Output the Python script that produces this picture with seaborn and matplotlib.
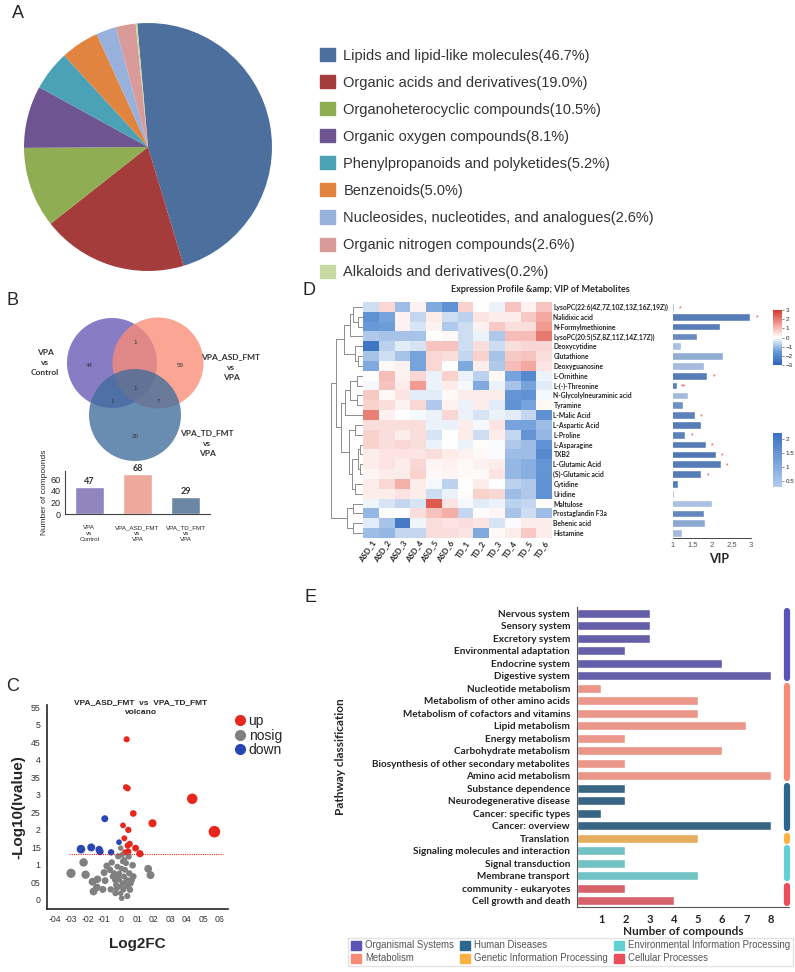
import numpy as np
import pandas as pd
import matplotlib
matplotlib.use('Agg')
import matplotlib.pyplot as plt
from matplotlib.colors import LinearSegmentedColormap, Normalize
from matplotlib.patches import Circle, Patch
from matplotlib.lines import Line2D
import seaborn as sns

W, H = 795, 972

# ─── A: pie ──────────────────────────────────────────────────────────────────
class_names = ['Lipids and lipid-like molecules', 'Organic acids and derivatives',
               'Organoheterocyclic compounds', 'Organic oxygen compounds',
               'Phenylpropanoids and polyketides', 'Benzenoids',
               'Nucleosides, nucleotides, and analogues', 'Organic nitrogen compounds',
               'Alkaloids and derivatives']
class_pct = [46.7, 19.0, 10.5, 8.1, 5.2, 5.0, 2.6, 2.6, 0.2]
class_colors = ['#4d6f9e', '#a53c3c', '#8fad52', '#6f5492', '#4ba1b5', '#e0843f',
                '#98b1dc', '#d99a9a', '#c6d9a0']

# ─── B: venn + bars ──────────────────────────────────────────────────────────
venn_sets = ['VPA\nvs\nControl', 'VPA_ASD_FMT\nvs\nVPA', 'VPA_TD_FMT\nvs\nVPA']
venn_regions = {'ctrl': 44, 'asd': 59, 'ctrl_asd': 1, 'all': 1, 'ctrl_td': 1, 'asd_td': 7, 'td': 20}
comp_labels = ['VPA\nvs\nControl', 'VPA_ASD_FMT\nvs\nVPA', 'VPA_TD_FMT\nvs\nVPA']
comp_counts = [47, 68, 29]
comp_colors = ['#8a7cc6', '#f9a08f', '#6287ad']

# ─── C: volcano ──────────────────────────────────────────────────────────────
up_x = [0.036, 0.032, 0.042, 0.076, 0.014, 0.046, 0.022, 0.054, 0.042, 0.09, 0.026,
        0.046, 0.116, 0.192, 0.432, 0.566]
up_y = [4.59, 3.22, 3.19, 2.47, 2.13, 2.0, 1.76, 1.6, 1.55, 1.48, 1.36, 1.38, 1.32,
        2.19, 2.89, 1.95]
down_x = [-0.096, -0.24, -0.178, -0.13, -0.125, -0.058, -0.01]
down_y = [2.32, 1.45, 1.50, 1.44, 1.38, 1.36, 1.65]
nosig_x = [-0.30, -0.224, -0.212, -0.17, -0.14, -0.164, -0.144, -0.108, -0.094, -0.10,
           -0.084, -0.064, -0.054, -0.048, -0.06, -0.034, -0.028, -0.02, -0.014, -0.008,
           0.0, 0.0, 0.006, 0.012, 0.02, 0.026, 0.032, 0.036, 0.046, 0.052, 0.056, 0.066,
           0.072, 0.076, 0.04, 0.02, 0.008, -0.016, 0.166, 0.18, 0.016, -0.008, 0.004,
           -0.032, 0.06, 0.048, -0.04, 0.012, -0.024, 0.028, -0.004, -0.014]
nosig_y = [0.76, 1.07, 0.72, 0.52, 0.59, 0.24, 0.36, 0.30, 0.55, 0.78,
           0.97, 0.86, 1.07, 0.67, 0.30, 0.57, 0.43, 0.95, 1.24, 0.76,
           1.48, 0.19, 0.05, 0.48, 0.67, 0.86, 1.05, 0.57, 0.38, 0.76, 0.29, 0.57,
           0.99, 0.67, 0.11, 1.14, 1.29, 1.25, 0.89, 0.71, 0.29, 0.57, 0.90,
           0.19, 0.48, 1.24, 0.76, 1.10, 0.33, 0.43, 0.38, 0.67]
vol_xticks = [-0.4, -0.3, -0.2, -0.1, 0.0, 0.1, 0.2, 0.3, 0.4, 0.5, 0.6]
vol_xticklabels = ['-04', '-03', '-02', '-01', '0', '01', '02', '03', '04', '05', '06']
vol_yticks = [0, 0.5, 1, 1.5, 2, 2.5, 3, 3.5, 4, 4.5, 5, 5.5]
vol_yticklabels = ['0', '05', '1', '15', '2', '25', '3', '35', '4', '45', '5', '55']

# ─── D: heatmap + VIP ────────────────────────────────────────────────────────
metabolites = ['LysoPC(22:6(4Z,7Z,10Z,13Z,16Z,19Z))', 'Nalidixic acid', 'N-Formylmethionine',
               'LysoPC(20:5(5Z,8Z,11Z,14Z,17Z))', 'Deoxycytidine', 'Glutathione',
               'Deoxyguanosine', 'L-Ornithine', 'L-(-)-Threonine', 'N-Glycolylneuraminic acid',
               'Tyramine', 'L-Malic Acid', 'L-Aspartic Acid', 'L-Proline', 'L-Asparagine',
               'TXB2', 'L-Glutamic Acid', '(S)-Glutamic acid', 'Cytidine', 'Uridine',
               'Maltulose', 'Prostaglandin F3a', 'Behenic acid', 'Histamine']
samples = ['ASD_1', 'ASD_2', 'ASD_3', 'ASD_4', 'ASD_5', 'ASD_6',
           'TD_1', 'TD_2', 'TD_3', 'TD_4', 'TD_5', 'TD_6']
expr = [
    [-0.5, 0.6, -1.0, 0.2, -1.3, -1.8, 0.7, 0.0, -0.2, 0.9, 0.2, 0.9],
    [-1.8, -1.4, 0.2, -0.6, 0.3, -0.5, -0.7, 0.4, 0.3, 0.3, 0.8, 1.3],
    [-1.6, -1.5, 0.2, -0.4, 0.2, -0.8, -0.5, 0.2, 0.8, 0.5, 0.5, 1.5],
    [-0.8, -0.9, -0.9, -0.9, 0.0, 0.1, -0.5, -0.2, -0.8, 1.0, 1.0, 2.0],
    [-2.5, -0.7, -0.3, -0.4, 0.9, 0.9, -0.5, 0.5, -0.5, 0.5, 0.6, 0.6],
    [-0.9, -0.5, -0.9, -1.4, 0.6, 0.5, -0.6, 0.7, -0.9, 0.8, 0.9, 0.5],
    [-1.3, 0.1, 0.2, -1.4, 0.6, 0.0, -1.3, 0.3, -0.8, 1.0, 1.3, 0.4],
    [0.0, 1.0, 0.2, 0.6, -0.2, 0.7, -0.2, -0.7, 0.1, -1.4, -2.0, -0.2],
    [-0.1, 0.9, 0.3, 1.5, -0.2, 0.3, -0.1, -1.3, -0.2, -0.9, -1.4, -0.3],
    [0.8, 0.1, 0.4, -0.3, -0.3, 0.1, 0.3, 0.3, 0.3, -1.7, -1.8, -0.1],
    [0.7, 0.5, 0.2, 0.6, -0.8, 0.2, -0.2, 0.3, -0.3, -1.8, -1.4, 0.1],
    [1.9, 0.2, 0.0, -0.1, -0.2, 0.6, -0.2, -0.4, -0.2, -0.3, -0.6, -1.8],
    [0.5, 0.5, 0.5, 0.5, -0.2, -0.2, 0.3, -0.1, 0.4, -1.4, -1.4, -1.0],
    [0.7, 0.5, 0.3, 0.5, -0.4, 0.0, 0.3, -0.5, 0.3, -0.6, -1.7, -1.1],
    [0.7, 0.5, 0.6, 0.5, -0.2, 0.0, -0.2, 0.05, -0.05, -0.8, -1.0, -1.8],
    [0.3, 0.4, 0.4, 0.4, 0.5, 0.3, 0.2, 0.1, -0.05, -1.0, -1.0, -2.0],
    [0.3, 0.4, 0.3, 0.6, 0.15, 0.2, 0.1, 0.2, 0.3, -1.1, -1.2, -1.7],
    [0.15, 0.3, 0.3, 0.7, 0.1, 0.15, 0.1, 0.1, 0.4, -1.1, -1.2, -1.7],
    [0.3, 0.6, 1.2, 0.3, -0.1, -0.7, 0.0, 0.3, 0.0, -0.7, -0.8, -1.8],
    [0.3, 0.3, 0.4, 0.3, -0.5, -0.2, 0.05, 0.7, 0.6, -1.0, -0.8, -1.8],
    [-0.15, -0.4, -0.6, -0.4, 2.5, 0.4, -0.1, -0.3, -0.2, -0.7, -0.6, 0.05],
    [-1.1, 0.05, 0.0, 0.5, 0.9, 1.2, -0.6, 0.05, 0.15, -0.9, -0.5, -1.0],
    [-0.3, -0.9, -2.4, -0.15, 0.5, 0.4, 0.5, 0.4, -0.4, -0.05, 0.3, 0.3],
    [-1.0, -1.1, -0.6, -0.6, 0.5, 0.5, 0.4, -1.3, 0.1, 0.3, 0.8, 0.3],
]
vip = [1.02, 2.98, 2.21, 1.61, 1.2, 2.28, 1.79, 1.88, 1.1, 1.38, 1.26, 1.56, 1.73,
       1.32, 1.84, 2.10, 2.22, 1.73, 1.14, 1.03, 2.0, 1.79, 1.81, 1.23]
vip_shade = [0.9, 2.0, 2.0, 1.7, 0.6, 1.0, 0.7, 2.0, 2.0, 0.7, 1.6, 1.9, 2.0, 1.9,
             2.0, 2.1, 2.0, 2.0, 2.0, 0.6, 0.6, 1.8, 1.1, 0.7]
vip_stars = ['*', '*', '', '', '', '', '', '*', '**', '', '', '*', '', '*', '*', '*',
             '*', '*', '', '', '', '', '', '']
# cluster merges: (left, right, height); leaves 0..23, new nodes from 24
row_merges = [(1, 2, 1.5), (0, 24, 3), (25, 3, 4), (5, 6, 1.5), (4, 27, 2.5), (26, 28, 6),
              (7, 8, 2), (9, 10, 2), (30, 31, 4), (32, 11, 5.5), (12, 13, 2.5), (14, 15, 1),
              (16, 17, 0.8), (35, 36, 1.5), (18, 19, 2.5), (37, 38, 3.5), (34, 39, 4.5),
              (33, 40, 7), (29, 41, 8.5), (20, 21, 3), (22, 23, 3), (43, 44, 5), (42, 45, 10)]

# ─── E: pathway bars ─────────────────────────────────────────────────────────
path_names = ['Nervous system', 'Sensory system', 'Excretory system', 'Environmental adaptation',
              'Endocrine system', 'Digestive system', 'Nucleotide metabolism',
              'Metabolism of other amino acids', 'Metabolism of cofactors and vitamins',
              'Lipid metabolism', 'Energy metabolism', 'Carbohydrate metabolism',
              'Biosynthesis of other secondary metabolites', 'Amino acid metabolism',
              'Substance dependence', 'Neurodegenerative disease', 'Cancer: specific types',
              'Cancer: overview', 'Translation', 'Signaling molecules and interaction',
              'Signal transduction', 'Membrane transport', 'community - eukaryotes',
              'Cell growth and death']
path_counts = [3, 3, 3, 2, 6, 8, 1, 5, 5, 7, 2, 6, 2, 8, 2, 2, 1, 8, 5, 2, 2, 5, 2, 4]
path_groups = (['Organismal Systems'] * 6 + ['Metabolism'] * 8 + ['Human Diseases'] * 4
               + ['Genetic Information Processing'] + ['Environmental Information Processing'] * 3
               + ['Cellular Processes'] * 2)
group_colors = {'Organismal Systems': '#5b53b6', 'Metabolism': '#fa8a78',
                'Human Diseases': '#2c6790', 'Genetic Information Processing': '#fbb245',
                'Environmental Information Processing': '#62d0d2', 'Cellular Processes': '#ea4f5a'}


def box(x0, y0, x1, y1):
    return [x0 / W, 1 - y1 / H, (x1 - x0) / W, (y1 - y0) / H]


sns.set_style('white')
plt.rcParams['font.family'] = ['Liberation Sans', 'DejaVu Sans']
LB = 'Lato'

fig = plt.figure(figsize=(W / 100, H / 100), dpi=100)
ov = fig.add_axes([0, 0, 1, 1])
ov.set_xlim(0, W)
ov.set_ylim(H, 0)
ov.axis('off')

for lab, (px, py) in zip('ABCDE', [(12, 14), (6, 300), (6, 686), (302, 290), (304, 597)]):
    ov.text(px, py, lab, fontsize=13, va='center', ha='left')

# ---- A
axA = fig.add_axes(box(24, 22, 272, 272))
axA.pie(class_pct, colors=class_colors, startangle=95, counterclock=False,
        wedgeprops=dict(linewidth=0))
axA.set_xlim(-1, 1)
axA.set_ylim(-1, 1)
axA.set_aspect('equal')
handles = [Patch(color=c) for c in class_colors]
labels = [f'{n}({p:.1f}%)' for n, p in zip(class_names, class_pct)]
fig.legend(handles, labels, loc='upper left', bbox_to_anchor=(307 / W, 1 - 35 / H),
           frameon=False, fontsize=10.5, handlelength=1.0, handleheight=1.0,
           labelspacing=0.86, handletextpad=0.6, labelcolor='#333333')

# ---- B venn
venn_geo = [((112, 363), 45, '#6e5fb8', 0.82), ((158, 363), 45.5, '#fa8c76', 0.78),
            ((135, 415), 46, '#3f6d9b', 0.78)]
for (c, r, col, a) in venn_geo:
    ov.add_patch(Circle(c, r, facecolor=col, edgecolor='none', alpha=a))
region_pos = {'ctrl': (89, 365), 'asd': (180, 365), 'ctrl_asd': (135, 342), 'all': (135, 388),
              'ctrl_td': (112, 401), 'asd_td': (158, 401), 'td': (135, 436)}
for k, v in venn_regions.items():
    ov.text(*region_pos[k], str(v), fontsize=4.5, ha='center', va='center', color='#333333')
for name, pos in zip(venn_sets, [(45, 362), (231, 367), (207, 443)]):
    ov.text(*pos, name, fontsize=6, ha='center', va='center', family=LB,
            fontweight='bold', color='#333333', linespacing=1.5)

axB = fig.add_axes(box(65, 471, 210, 514))
sns.barplot(x=comp_labels, y=comp_counts, hue=comp_labels, palette=comp_colors,
            legend=False, width=0.6, ax=axB)
axB.set_ylim(0, 74)
axB.set_yticks([0, 20, 40, 60])
axB.tick_params(axis='y', labelsize=6.5, length=2, pad=1)
axB.tick_params(axis='x', labelsize=4.5, length=0, pad=8)
for i, v in enumerate(comp_counts):
    axB.text(i, v + 2, str(v), ha='center', va='bottom', fontsize=6.5, family=LB,
             fontweight='bold', color='#333333')
axB.set_ylabel('Number of compounds', fontsize=6, labelpad=2)
sns.despine(ax=axB)
for s in ['left', 'bottom']:
    axB.spines[s].set_linewidth(0.8)
    axB.spines[s].set_color('#444444')

# ---- C volcano
axC = fig.add_axes(box(47, 705, 228, 909))
vol = pd.DataFrame({
    'x': up_x + nosig_x + down_x,
    'y': up_y + nosig_y + down_y,
    'status': ['up'] * len(up_x) + ['nosig'] * len(nosig_x) + ['down'] * len(down_x),
})
vol['mag'] = vol['x'].abs()
vol_pal = {'up': '#e8261e', 'nosig': '#808080', 'down': '#2a46b2'}
sns.scatterplot(data=vol, x='x', y='y', hue='status', palette=vol_pal, size='mag',
                sizes=(16, 70), size_norm=(0, 0.57), linewidth=0, legend=False, ax=axC)
axC.hlines(1.3, -0.31, 0.62, colors='#e8261e', linestyles=(0, (1, 1)), linewidth=0.8)
axC.set_xlim(-0.445, 0.648)
axC.set_ylim(-0.26, 5.57)
axC.set_xticks(vol_xticks)
axC.set_xticklabels(vol_xticklabels)
axC.set_yticks(vol_yticks)
axC.set_yticklabels(vol_yticklabels)
axC.tick_params(labelsize=6.3, length=2.5, width=0.8, colors='#333333', pad=2)
axC.set_xlabel('Log2FC', fontsize=11, fontweight='bold', labelpad=9)
axC.set_ylabel('-Log10(Ivalue)', fontsize=11, fontweight='bold', labelpad=4)
sns.despine(ax=axC)
for s in ['left', 'bottom']:
    axC.spines[s].set_linewidth(1.2)
fig.text(141 / W, 1 - 703 / H, 'VPA_ASD_FMT  vs  VPA_TD_FMT', fontsize=6, fontweight='bold',
         ha='center', va='center')
fig.text(141 / W, 1 - 713 / H, 'volcano', fontsize=6, fontweight='bold', ha='center', va='center')
vh = [Line2D([], [], marker='o', ls='', color=vol_pal[k], markersize=7) for k in ['up', 'nosig', 'down']]
fig.legend(vh, ['up', 'nosig', 'down'], loc='upper left', bbox_to_anchor=(225 / W, 1 - 707 / H),
           frameon=False, fontsize=10, handletextpad=0.0, labelspacing=0.05,
           borderpad=0, handlelength=1.2)

# ---- D heatmap
hm_cmap = LinearSegmentedColormap.from_list(
    'hm', [(0, '#2a63b8'), (0.25, '#6d9cd9'), (0.5, '#ffffff'), (0.75, '#f19c94'), (1, '#d5382b')])
axD = fig.add_axes(box(363, 302, 552, 538))
expr_df = pd.DataFrame(expr, index=metabolites, columns=samples)
sns.heatmap(expr_df, cmap=hm_cmap, vmin=-3, vmax=3, cbar=False, ax=axD)
axD.yaxis.tick_right()
axD.set_yticks(np.arange(len(metabolites)) + 0.5)
axD.set_yticklabels(metabolites, rotation=0, fontsize=4.9, family=LB, fontweight='bold')
axD.set_xticklabels(samples, rotation=55, ha='right', rotation_mode='anchor',
                    fontsize=5.8, family=LB, fontweight='bold')
axD.tick_params(length=0, pad=1)
ov.text(540, 289, 'Expression Profile &amp; VIP of Metabolites', fontsize=6.5,
        family=LB, fontweight='bold', ha='center', va='center')

# dendrogram
axT = fig.add_axes(box(330, 302, 363, 538))
node_y = {i: i + 0.5 for i in range(len(metabolites))}
node_h = {i: 0.0 for i in range(len(metabolites))}
for k, (a, b, h) in enumerate(row_merges):
    nid = len(metabolites) + k
    axT.plot([node_h[a], h, h, node_h[b]], [node_y[a], node_y[a], node_y[b], node_y[b]],
             color='#8c8c8c', lw=0.7)
    node_y[nid] = (node_y[a] + node_y[b]) / 2
    node_h[nid] = h
axT.set_ylim(len(metabolites), 0)
axT.set_xlim(10.3, 0)
axT.axis('off')

hcax = fig.add_axes(box(773, 310, 782, 365))
cb = fig.colorbar(plt.cm.ScalarMappable(norm=Normalize(-3, 3), cmap=hm_cmap), cax=hcax)
cb.set_ticks([3, 2, 1, 0, -1, -2, -3])
cb.ax.tick_params(labelsize=4.5, length=1.5, width=0.4, pad=1)
cb.outline.set_visible(False)

# VIP bars
vip_cmap = LinearSegmentedColormap.from_list('vip', ['#b3cdf0', '#3b70c2'])
vip_norm = Normalize(0.3, 2.2)
axV = fig.add_axes(box(673, 302, 765, 538))
sns.barplot(x=vip, y=metabolites, hue=metabolites,
            palette=[vip_cmap(vip_norm(v)) for v in vip_shade],
            legend=False, width=0.78, orient='h', ax=axV)
axV.set_xlim(1, 3.36)
axV.set_ylim(len(metabolites) - 0.5, -0.5)
for i, (v, st) in enumerate(zip(vip, vip_stars)):
    if st:
        axV.text(v + 0.17, i + 0.15, st, color='#e04848', fontsize=5, ha='center', va='center')
axV.set_yticks([])
axV.set_ylabel('')
axV.set_xticks([1, 1.5, 2, 2.5, 3])
axV.set_xticklabels(['1', '1.5', '2', '2.5', '3'])
axV.tick_params(axis='x', labelsize=5.5, length=2, width=0.5, pad=1, colors='#555555')
axV.set_xlabel('VIP', fontsize=9, family=LB, fontweight='bold', labelpad=3)
sns.despine(ax=axV, left=True)
axV.spines['bottom'].set_bounds(1, 3)
axV.spines['bottom'].set_linewidth(0.6)

vcax = fig.add_axes(box(773, 433, 782, 487))
cb2 = fig.colorbar(plt.cm.ScalarMappable(norm=vip_norm, cmap=vip_cmap), cax=vcax)
cb2.set_ticks([0.5, 1, 1.5, 2])
cb2.set_ticklabels(['0.5', '1', '1.5', '2'])
cb2.ax.tick_params(labelsize=4.5, length=1.5, width=0.4, pad=1)
cb2.outline.set_visible(False)

# ---- E pathway bars
axE = fig.add_axes(box(577, 607, 789, 907))
sns.barplot(x=path_counts, y=path_names, hue=path_groups, palette=group_colors,
            dodge=False, legend=False, width=0.75, orient='h', ax=axE)
axE.set_xlim(0, 8.76)
axE.set_ylim(len(path_names) - 0.5, -0.5)
axE.set_xticks(range(1, 9))
axE.tick_params(axis='x', labelsize=8, length=3, width=0.8, pad=2)
axE.tick_params(axis='y', labelsize=7.2, length=3, width=0.8, pad=2)
for t in axE.get_xticklabels() + axE.get_yticklabels():
    t.set_family(LB)
    t.set_fontweight('bold')
    t.set_color('#222222')
axE.set_xlabel('Number of compounds', fontsize=8.5, family=LB, fontweight='bold', labelpad=1)
axE.set_ylabel('Pathway classification', fontsize=8.5, family=LB, fontweight='bold', labelpad=19)
sns.despine(ax=axE)
for s in ['left', 'bottom']:
    axE.spines[s].set_linewidth(0.8)
    axE.spines[s].set_color('#555555')

# group strips on the right
start = 0
for i in range(1, len(path_groups) + 1):
    if i == len(path_groups) or path_groups[i] != path_groups[start]:
        axE.plot([8.68, 8.68], [start - 0.2, i - 1 + 0.2], color=group_colors[path_groups[start]],
                 lw=4.5, solid_capstyle='round', clip_on=False)
        start = i

leg_order = ['Organismal Systems', 'Metabolism', 'Human Diseases',
             'Genetic Information Processing', 'Environmental Information Processing',
             'Cellular Processes']
lh = [Patch(color=group_colors[g]) for g in leg_order]
fig.legend(lh, leg_order, ncol=3, loc='lower left', bbox_to_anchor=(343 / W, 0.001),
           frameon=True, edgecolor='#dddddd', fancybox=False, fontsize=6.9,
           handlelength=1.1, handleheight=1.1, handletextpad=0.4, columnspacing=0.6,
           labelspacing=0.3, borderpad=0.3, labelcolor='#555555')

for ax in fig.axes:
    ax.patch.set_visible(False)

fig.savefig('out.png', dpi=100)
